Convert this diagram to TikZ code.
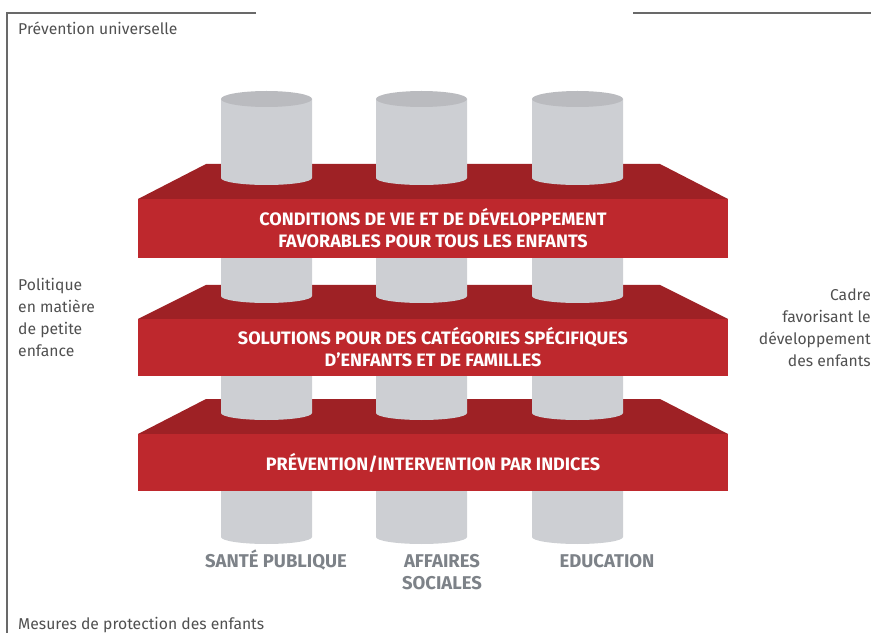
\documentclass[tikz,border=0pt]{standalone}
\usepackage{fontspec}
\setmainfont{Fira Sans}
\usetikzlibrary{positioning}
\definecolor{slabfront}{RGB}{190,40,45}
\definecolor{slabtop}{RGB}{158,33,37}
\definecolor{cylbody}{RGB}{205,207,211}
\definecolor{cyltop}{RGB}{186,187,191}
\definecolor{labelgray}{RGB}{125,130,136}
\definecolor{textgray}{RGB}{80,80,80}
\definecolor{framegray}{RGB}{105,105,105}

\begin{document}
\begin{tikzpicture}[x=1pt,y=1pt,
  slabtxt/.style={text=white,font=\fontsize{18}{22}\selectfont\bfseries,align=center},
  pillartxt/.style={text=labelgray,font=\fontsize{18.5}{22}\selectfont\bfseries,align=center,anchor=base,inner sep=0pt},
  sidetxt/.style={text=textgray,font=\fontsize{15.7}{22}\selectfont,inner sep=0pt},
  frame/.style={draw=framegray,line width=1.2pt}]

 \useasboundingbox (0,0) rectangle (871,633);

 % frame lines
 \draw[frame] (256,620) -- (7,620) -- (7,0);
 \draw[frame] (633,620) -- (871,620);

 % top faces of the slabs
 \fill[slabtop] (138,434) -- (206,469) -- (660,469) -- (728,434) -- cycle;
 \fill[slabtop] (138,314) -- (206,348) -- (660,348) -- (728,314) -- cycle;
 \fill[slabtop] (138,199) -- (206,234) -- (660,234) -- (728,199) -- cycle;

 % pillars
 \foreach \x in {266.5,421.5,577.5}{
   \fill[cylbody] (\x-45.5,534) -- (\x-45.5,455) arc[start angle=180,end angle=360,x radius=45.5,y radius=7] -- (\x+45.5,534) -- cycle;
   \fill[cylbody] (\x-45.5,393) -- (\x-45.5,337) arc[start angle=180,end angle=360,x radius=45.5,y radius=7] -- (\x+45.5,393) -- cycle;
   \fill[cylbody] (\x-45.5,280) -- (\x-45.5,220) arc[start angle=180,end angle=360,x radius=45.5,y radius=7] -- (\x+45.5,280) -- cycle;
   \fill[cylbody] (\x-45.5,160) -- (\x-45.5,96) arc[start angle=180,end angle=360,x radius=45.5,y radius=7] -- (\x+45.5,160) -- cycle;
   \fill[cyltop] (\x,534) ellipse[x radius=45.5,y radius=8];
 }

 % front faces of the slabs
 \fill[slabfront] (138,375) rectangle (728,434);
 \fill[slabfront] (138,257) rectangle (728,314);
 \fill[slabfront] (138,142) rectangle (728,199);

 \node[slabtxt] (conditions) at (433,404.5) {CONDITIONS DE VIE ET DE DÉVELOPPEMENT\\FAVORABLES POUR TOUS LES ENFANTS};
 \node[slabtxt] (solutions) at (433,285.5) {SOLUTIONS POUR DES CATÉGORIES SPÉCIFIQUES\\D’ENFANTS ET DE FAMILLES};
 \node[slabtxt] (indices) at (433,170.5) {PRÉVENTION/INTERVENTION PAR INDICES};

 % pillar labels
 \node[pillartxt] (sante) at (276,65.5) {SANTÉ PUBLIQUE};
 \node[pillartxt] (affaires) at (442,43.5) {AFFAIRES\\SOCIALES};
 \node[pillartxt] (education) at (607,65.5) {EDUCATION};

 % side texts
 \node[sidetxt,anchor=base west] (universelle) at (18,598) {Prévention universelle};
 \node[sidetxt,anchor=north west,align=left] (politique) at (18,355) {Politique\\en matière\\de petite\\enfance};
 \node[sidetxt,anchor=north east,align=right] (cadre) at (871,344) {Cadre\\favorisant le\\développement\\des enfants};
 \node[sidetxt,anchor=base west] (mesures) at (18,4) {Mesures de protection des enfants};

\end{tikzpicture}
\end{document}
